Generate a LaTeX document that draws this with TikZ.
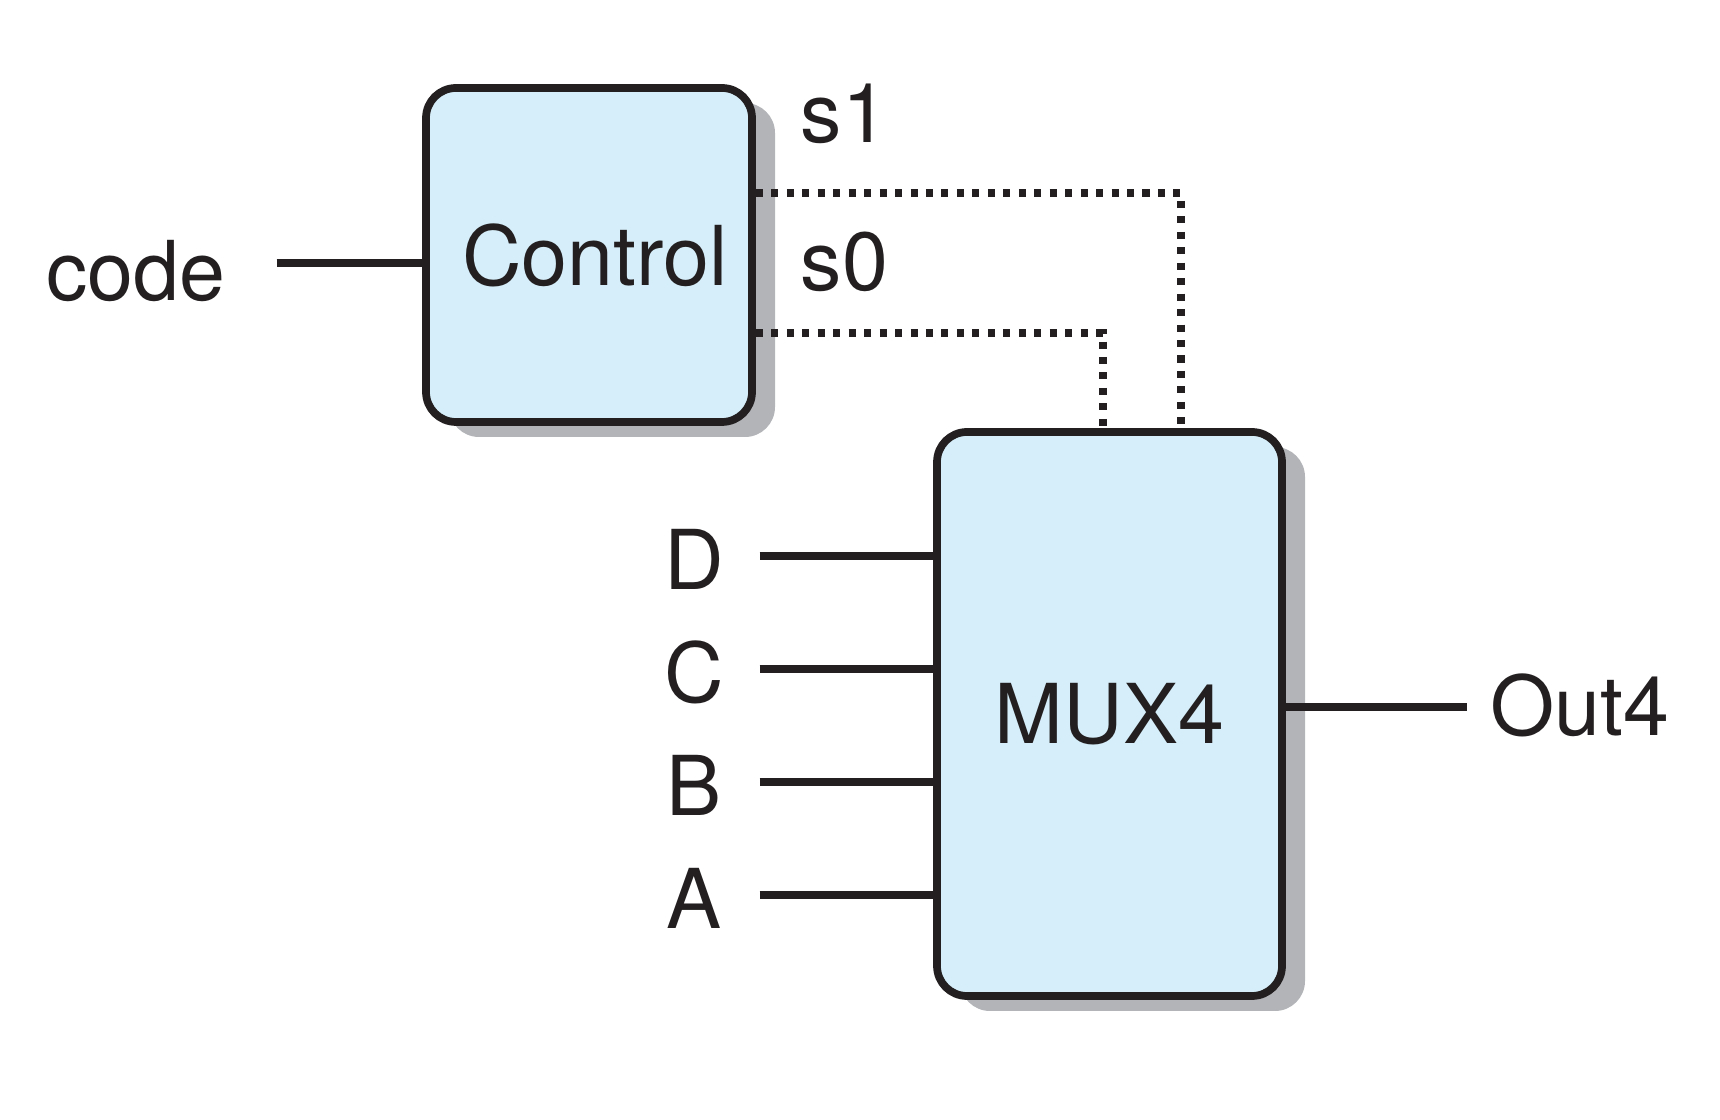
\documentclass[tikz,border=0pt]{standalone}
\usepackage{fontspec}
\setmainfont{TeX Gyre Heros}
\usetikzlibrary{positioning,shadows}
\definecolor{boxfill}{HTML}{D5EEF9}
\definecolor{boxshade}{HTML}{B3B4B8}
\definecolor{ink}{HTML}{231F20}
\tikzset{%
	block/.style  = {draw=ink, line width=2.2pt, rounded corners=0.3cm, fill=boxfill, text=ink,
		font=\fontsize{23.5}{28}\selectfont,
		drop shadow={shadow xshift=0.23cm, shadow yshift=-0.15cm, fill=boxshade, opacity=1}}, % Block
	port/.style   = {text=ink, inner sep=0pt, font=\fontsize{23.5}{28}\selectfont,
		text height=0.68cm, text depth=0pt}, % Port name
	wire/.style   = {draw=ink, line width=2.2pt}, % Data line
	select/.style = {draw=ink, line width=2.1pt, dash pattern=on 2pt off 2.4pt}, % Select line
}
\begin{document}
\begin{tikzpicture}[node distance = 1.13cm]
	\useasboundingbox (0.03,-0.02) rectangle (17.23,11.18);
	\node[block, minimum width=3.26cm, minimum height=3.34cm] (ctrl) at (5.92,8.63) {\hspace{0.12cm}Control};
	\node[block, minimum width=3.45cm, minimum height=5.64cm] (mux) at (11.125,4.04) {MUX4};
	\node[port, minimum width=2.8cm, text height=0.76cm] (code) at (1.39,8.55) {code};
	\node[port, minimum width=1.3cm] (D) at (6.97,5.62) {D};
	\node[port, minimum width=1.3cm, below of=D] (C) {C};
	\node[port, minimum width=1.3cm, below of=C] (B) {B};
	\node[port, minimum width=1.3cm, below of=B] (A) {A};
	\node[port, minimum width=2.24cm, text height=0.58cm] (out) at (15.83,4.11) {Out4};
	\node[port, anchor=base west] (s1) at (8.03,9.75) {s1};
	\node[port, anchor=base west] (s0) at (8.03,8.27) {s0};
	
	\draw[wire] (code) -- (code -| ctrl.west);
	\draw[wire] (D) -- (D -| mux.west);
	\draw[wire] (C) -- (C -| mux.west);
	\draw[wire] (B) -- (B -| mux.west);
	\draw[wire] (A) -- (A -| mux.west);
	\draw[wire] (mux.east |- out) -- (out);
	\draw[select] ([yshift=0.62cm]ctrl.east) -| ([xshift=0.715cm]mux.north);
	\draw[select] ([yshift=-0.78cm]ctrl.east) -| ([xshift=-0.065cm]mux.north);
\end{tikzpicture}
\end{document}
